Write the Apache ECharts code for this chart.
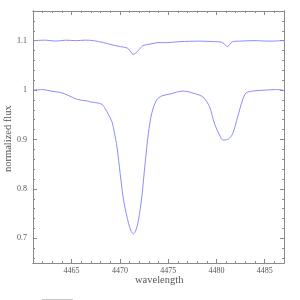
<!DOCTYPE html>
<html>
<head>
<meta charset="utf-8">
<script src="https://cdn.jsdelivr.net/npm/echarts@6/dist/echarts.min.js"></script>
<style>html,body{margin:0;padding:0;background:#fff}#c{width:300px;height:300px}</style>
</head>
<body>
<div id="c"></div>
<script>
const lowerWave = [4461.1,4462.0,4462.85,4463.87,4464.56,4465.6,4466.62,4466.96,4467.65,4468.15,4468.49,4468.8,4469.18,4469.42,4469.7,4470.03,4470.38,4470.66,4470.9,4471.17,4471.4,4471.67,4471.92,4472.27,4472.61,4472.95,4473.3,4473.81,4474.33,4475.18,4476.55,4477.56,4478.6,4479.29,4479.8,4480.32,4480.66,4481.17,4481.69,4482.2,4482.71,4483.06,4483.74,4485.12,4486.14,4486.9];
const lowerFlux = [1.000,1.001,0.998,0.995,0.990,0.981,0.978,0.976,0.974,0.971,0.962,0.951,0.936,0.915,0.885,0.831,0.777,0.750,0.730,0.714,0.709,0.717,0.736,0.784,0.851,0.912,0.953,0.980,0.988,0.992,0.998,0.994,0.986,0.966,0.932,0.909,0.899,0.900,0.912,0.946,0.980,0.994,0.998,1.000,1.001,1.000];
const upperWave = [4461.1,4462.33,4463.36,4464.39,4465.42,4466.44,4467.27,4468.3,4469.32,4470.04,4470.76,4471.07,4471.35,4471.6,4472.0,4472.4,4473.12,4473.95,4474.87,4476.2,4478.26,4479.8,4480.52,4480.83,4481.1,4481.34,4481.65,4482.37,4483.9,4485.46,4486.9];
const upperFlux = [1.100,1.101,1.099,1.101,1.100,1.101,1.100,1.096,1.091,1.088,1.085,1.079,1.0724,1.074,1.082,1.090,1.093,1.096,1.096,1.098,1.099,1.098,1.097,1.093,1.088,1.091,1.098,1.099,1.100,1.099,1.100];
const xTickLabels = [4465,4470,4475,4480,4485];
const yTickLabels = [0.7,0.8,0.9,1,1.1];

const XMIN = 4461, XMAX = 4487, YMIN = 0.65, YMAX = 1.16;
const xMinor = []; for (let v = XMIN; v <= XMAX; v++) xMinor.push(v);
const yMinor = []; for (let i = 33; i <= 58; i++) yMinor.push(+(i*0.02).toFixed(2));

const axisCol = '#8a8a8a';
const font = 'Liberation Serif';
function xa(pos, ticks, len, labels) {
  return {
    type: 'value', position: pos, min: XMIN, max: XMAX,
    axisLine: {show: true, lineStyle: {color: axisCol, width: 1}},
    axisTick: {show: true, inside: true, length: len, customValues: ticks, lineStyle: {color: axisCol}},
    axisLabel: labels ? {show: true, customValues: xTickLabels, color: '#555', fontFamily: font, fontSize: 8, margin: 4, formatter: v => String(Math.round(v))} : {show: false},
    splitLine: {show: false}
  };
}
function ya(pos, ticks, len, labels) {
  return {
    type: 'value', position: pos, min: YMIN, max: YMAX,
    axisLine: {show: true, lineStyle: {color: axisCol, width: 1}},
    axisTick: {show: true, inside: true, length: len, customValues: ticks, lineStyle: {color: axisCol}},
    axisLabel: labels ? {show: true, customValues: yTickLabels, color: '#555', fontFamily: font, fontSize: 8, margin: 6, formatter: v => String(+v.toFixed(2))} : {show: false},
    splitLine: {show: false}
  };
}
const chart = echarts.init(document.getElementById('c'));
chart.setOption({
  animation: false,
  backgroundColor: '#fff',
  grid: {left: 33, right: 16, top: 11, bottom: 37, containLabel: false},
  xAxis: [xa('bottom', xTickLabels, 4, true), xa('bottom', xMinor, 2, false), xa('top', xTickLabels, 4, false), xa('top', xMinor, 2, false)],
  yAxis: [ya('left', yTickLabels, 4, true), ya('left', yMinor, 2, false), ya('right', yTickLabels, 4, false), ya('right', yMinor, 2, false)],
  graphic: [
    {type: 'text', left: 135, top: 275, style: {text: 'wavelength', fill: '#555', font: '10.5px "Liberation Serif"'}},
    {type: 'text', rotation: Math.PI/2, x: 3, y: 172, style: {text: 'normalized flux', fill: '#555', font: '10.5px "Liberation Serif"'}},
    {type: 'line', shape: {x1: 42, y1: 299.5, x2: 73, y2: 299.5}, style: {stroke: '#c8c8c8', lineWidth: 1}}
  ],
  series: [
    {type: 'line', xAxisIndex: 0, yAxisIndex: 0, data: lowerWave.map((w, i) => [w, lowerFlux[i]]), showSymbol: false, smooth: 0.3, lineStyle: {color: '#8c8cff', width: 1}},
    {type: 'line', xAxisIndex: 0, yAxisIndex: 0, data: upperWave.map((w, i) => [w, upperFlux[i]]), showSymbol: false, smooth: 0.3, lineStyle: {color: '#8c8cff', width: 1}}
  ]
});
</script>
</body>
</html>
